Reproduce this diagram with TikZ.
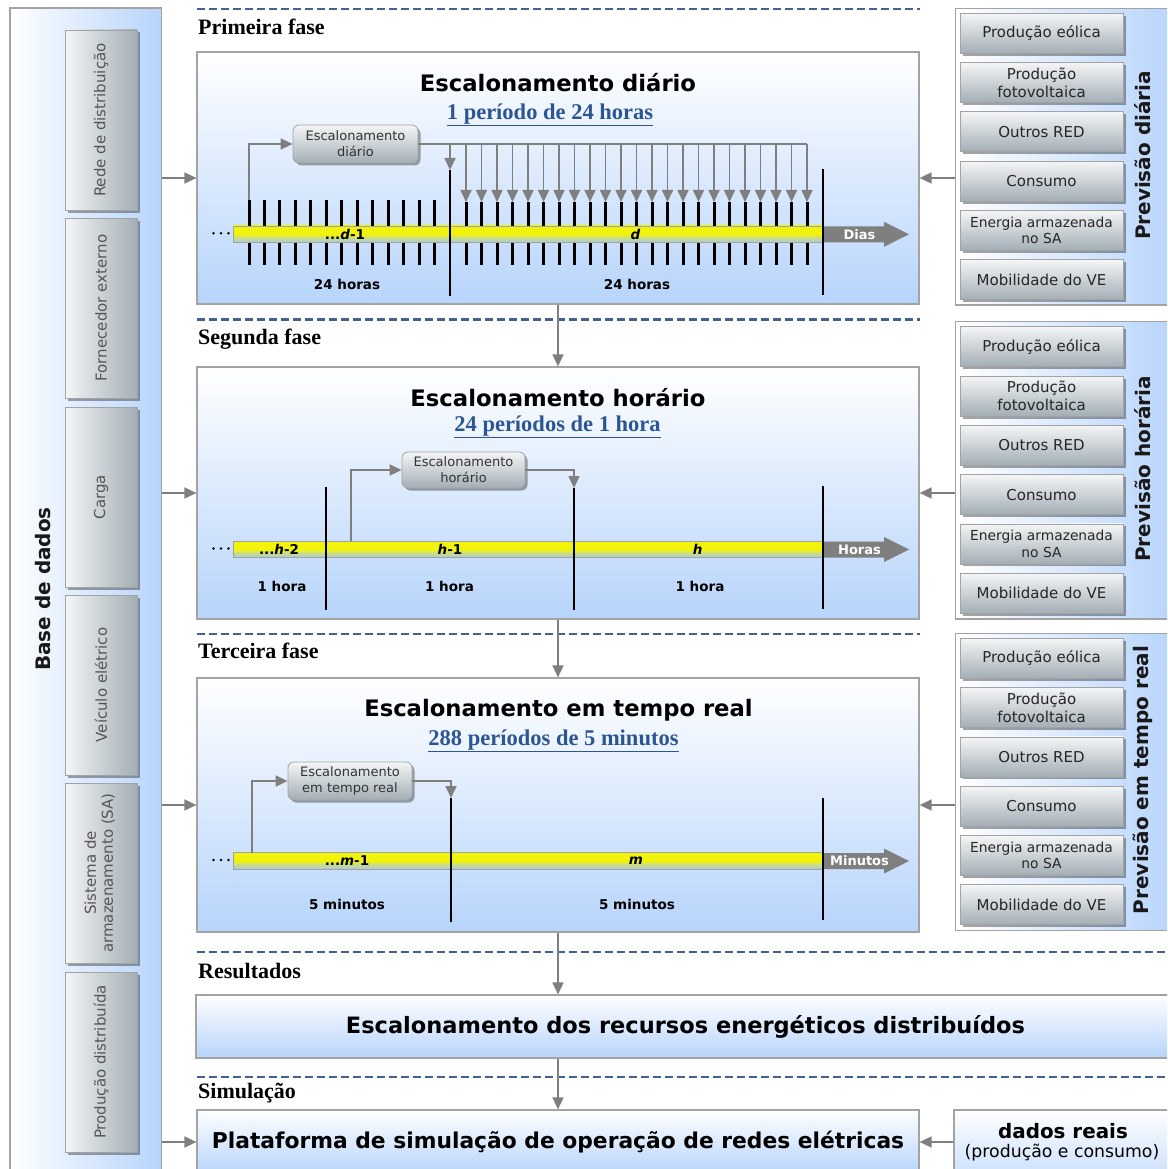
\documentclass[tikz,border=0pt]{standalone}
\usepackage{fontspec}
\setmainfont{DejaVu Sans}
\newfontfamily\timesfont{Liberation Serif}
\usetikzlibrary{arrows.meta,shadows}

\definecolor{panelblue}{HTML}{B7D4FB}
\definecolor{boxlight}{HTML}{F4F5F6}
\definecolor{boxdark}{HTML}{A3AEB5}
\definecolor{edgegray}{HTML}{A3A3A3}
\definecolor{flowgray}{HTML}{7F7F7F}
\definecolor{dashblue}{HTML}{41618F}
\definecolor{periodblue}{HTML}{2C5594}
\definecolor{baryellow}{HTML}{F2F30A}
\definecolor{barblue}{HTML}{A9CBE6}
\definecolor{dbtext}{HTML}{555555}
\definecolor{smalltext}{HTML}{333333}

% time axis fill: yellow upper part fading to pale blue at the bottom
\pgfdeclareverticalshading{barshade}{100bp}{color(0bp)=(barblue); color(25bp)=(barblue);
  color(40bp)=(barblue!55!baryellow); color(50bp)=(baryellow); color(75bp)=(baryellow); color(100bp)=(baryellow)}

\newcommand{\fsz}[2]{\fontsize{#1}{#2}\selectfont}

\tikzset{
  flow/.style={draw=flowgray, line width=1.7pt, -{Triangle[length=12pt,width=11pt]}},
  flowline/.style={draw=flowgray, line width=1.7pt},
  tickmark/.style={line width=3pt, black},
  divider/.style={line width=2.7pt, black},
  phasesep/.style={draw=dashblue, line width=2.3pt, dash pattern=on 8pt off 4pt},
  phaselabel/.style={anchor=west, font=\timesfont\bfseries\fsz{22}{26}, inner sep=0},
  phasebox/.style={draw=edgegray, line width=1.2pt, top color=white, bottom color=panelblue,
    minimum width=722, inner sep=0},
  sidepanel/.style={draw=edgegray, line width=1.2pt, left color=white, right color=panelblue, inner sep=0},
  shadowed/.style={drop shadow={shadow xshift=2.5pt, shadow yshift=-2.5pt, opacity=0.35, fill=black}},
  dbbox/.style={shadowed, draw=edgegray, line width=0.8pt, left color=boxlight, right color=boxdark,
    minimum width=72, minimum height=180, inner sep=0, font=\fsz{15}{17}, text=dbtext},
  fcbox/.style={shadowed, draw=edgegray, line width=0.8pt, top color=boxlight, bottom color=boxdark,
    minimum width=163, minimum height=40, inner sep=0, align=center, text=black!85},
  schedbox/.style={shadowed, draw=edgegray, line width=0.8pt, rounded corners=6pt, top color=boxlight,
    bottom color=boxdark, inner sep=0, align=center, font=\fsz{13}{16}, text=smalltext},
  title/.style={anchor=base, font=\bfseries\fsz{22.7}{26}, inner sep=0},
  period/.style={anchor=base, font=\timesfont\bfseries\fsz{22.5}{26}, text=periodblue, inner sep=0},
  timebar/.style={draw=edgegray, line width=0.8pt, shading=barshade,
    minimum width=590, minimum height=16.7, inner sep=0},
  barlabel/.style={font=\bfseries\fsz{13.5}{16}, inner sep=0},
  arrowlabel/.style={font=\bfseries\fsz{13}{16}, text=white, inner sep=0},
  sidetitle/.style={rotate=90, font=\bfseries\fsz{20}{24}, text=black!90, inner sep=0},
}

\begin{document}
\begin{tikzpicture}[x=1pt,y=-1pt]
\useasboundingbox (0,0) rectangle (1167,1169);
\clip (0,0) rectangle (1167,1169);

% ---------- database column ----------
\node[sidepanel, minimum width=151.7, minimum height=1172] (db) at (85.85,594) {};
\node[sidetitle] (dbtitle) at (43.3,589) {Base de dados};
\node[dbbox] (dbA) at (101,120) {\rotatebox{90}{Rede de distribuição}};
\node[dbbox] (dbB) at (101,308) {\rotatebox{90}{Fornecedor externo}};
\node[dbbox] (dbC) at (101,497) {\rotatebox{90}{Carga}};
\node[dbbox] (dbD) at (101,685) {\rotatebox{90}{Veículo elétrico}};
\node[dbbox] (dbE) at (101,873) {\rotatebox{90}{\begin{tabular}{@{}c@{}}Sistema de\\armazenamento (SA)\end{tabular}}};
\node[dbbox] (dbF) at (101,1062) {\rotatebox{90}{Produção distribuída}};

% ---------- forecast columns ----------
\node[sidepanel, minimum width=219.5, minimum height=296.7] (fc1) at (1065.25,156.6) {};
\node[sidepanel, minimum width=219.5, minimum height=297.3] (fc2) at (1065.25,470.3) {};
\node[sidepanel, minimum width=219.5, minimum height=297.4] (fc3) at (1065.25,782) {};
\foreach \p/\top in {1/13.3, 2/326.7, 3/638.3} {
  \node[fcbox, font=\fsz{15}{18}] (f\p a) at (1041.5,\top+20) {Produção eólica};
  \node[fcbox, font=\fsz{15}{18}] (f\p b) at (1041.5,\top+69.3) {Produção\\fotovoltaica};
  \node[fcbox, font=\fsz{15}{18}] (f\p c) at (1041.5,\top+118.6) {Outros RED};
  \node[fcbox, font=\fsz{15}{18}] (f\p d) at (1041.5,\top+167.9) {Consumo};
  \node[fcbox, font=\fsz{13.8}{16.5}] (f\p e) at (1041.5,\top+217.2) {Energia armazenada\\no SA};
  \node[fcbox, font=\fsz{15}{18}] (f\p f) at (1041.5,\top+266.5) {Mobilidade do VE};
}
\node[sidetitle] (fct1) at (1142.5,155.5) {Previsão diária};
\node[sidetitle] (fct2) at (1142.5,469) {Previsão horária};
\node[sidetitle] (fct3) at (1142.5,780) {Previsão em tempo real};

% ---------- phase separators and labels ----------
\draw[phasesep] (197,9) -- (920,9);
\draw[phasesep] (197,319.5) -- (920,319.5);
\draw[phasesep] (197,634.3) -- (920,634.3);
\draw[phasesep] (197,952) -- (1167,952);
\draw[phasesep] (197,1077) -- (1167,1077);
\node[phaselabel] (lab1) at (198,27) {Primeira fase};
\node[phaselabel] (lab2) at (198,339) {Segunda fase};
\node[phaselabel] (lab3) at (198,651) {Terceira fase};
\node[phaselabel] (lab4) at (198,971) {Resultados};
\node[phaselabel] (lab5) at (198,1093) {Simulação};

% ---------- phase boxes ----------
\node[phasebox, minimum height=252] (ph1) at (558,178) {};
\node[phasebox, minimum height=252] (ph2) at (558,493) {};
\node[phasebox, minimum height=254] (ph3) at (558,805) {};
\node[draw=edgegray, line width=1.2pt, top color=white, bottom color=panelblue, minimum width=979,
  minimum height=63, inner sep=0, font=\bfseries\fsz{22.5}{26}] (res) at (685.5,1026.5)
  {Escalonamento dos recursos energéticos distribuídos};
\node[draw=edgegray, line width=1.2pt, top color=white, bottom color=panelblue, minimum width=722,
  minimum height=64, inner sep=0, font=\bfseries\fsz{21.8}{26}] (plat) at (558,1142)
  {Plataforma de simulação de operação de redes elétricas};
\node[draw=edgegray, line width=1.2pt, top color=white, bottom color=panelblue!70, minimum width=221,
  minimum height=64, inner sep=0] (real) at (1064.5,1142) {};
\node[font=\bfseries\fsz{19.9}{22}, inner sep=0] (realA) at (1063,1131) {dados reais};
\node[font=\fsz{17.3}{20}, inner sep=0] (realB) at (1062,1153) {(produção e consumo)};

% ---------- titles ----------
\node[title] (t1) at (558,92) {Escalonamento diário};
\node[period] (s1) at (550,119.5) {\underline{1 período de 24 horas}};
\node[title] (t2) at (558,406.7) {Escalonamento horário};
\node[period] (s2) at (557.5,431) {\underline{24 períodos de 1 hora}};
\node[title] (t3) at (558.5,716.7) {Escalonamento em tempo real};
\node[period] (s3) at (553.5,745) {\underline{288 períodos de 5 minutos}};

% ---------- time axes ----------
\foreach \yc/\nm/\word in {234.3/1/Dias, 549.5/2/Horas, 861/3/Minutos} {
  \node[timebar] (bar\nm) at (528,\yc) {};
  \fill[flowgray] (823,\yc-8) -- (884,\yc-8) -- (884,\yc-12.5) -- (909,\yc) -- (884,\yc+12.5)
    -- (884,\yc+8) -- (823,\yc+8) -- cycle;
  \node[arrowlabel] (unit\nm) at (859.5,\yc) {\word};
  \foreach \dx in {0,7.5,15} \fill (213.5+\dx,\yc-1) circle (1.4);
}

% first phase: hourly ticks
\foreach \i in {0,...,12} {
  \draw[tickmark] ({249+15.47*\i},200) -- ++(0,26);
  \draw[tickmark] ({249+15.47*\i},243) -- ++(0,22);
}
\foreach \i in {0,...,22} {
  \draw[tickmark] ({466+15.5*\i},202) -- ++(0,24);
  \draw[tickmark] ({466+15.5*\i},243) -- ++(0,22);
}
\draw[divider] (450,170) -- (450,296);
\draw[divider] (823,169) -- (823,295);
\coordinate (d1top) at (450,170);
\coordinate (k1) at (249,200);
\node[schedbox, minimum width=125, minimum height=38] (e1) at (355.5,144) {Escalonamento\\diário};
\draw[flow] (k1) |- (e1.west);
\draw[flowline] (e1.east) -- (807,144);
\draw[flow] (450,144) -- (d1top);
\foreach \i in {0,...,22} \draw[flow] ({466+15.5*\i},144) -- ({466+15.5*\i},202);
\node[barlabel] (l1a) at (345,234.3) {...\textit{d}-1};
\node[barlabel] (l1b) at (635.5,234.3) {\textit{d}};
\node[barlabel] (h1a) at (347,284.5) {24 horas};
\node[barlabel] (h1b) at (637,284.5) {24 horas};

% second phase
\draw[divider] (326,487) -- (326,610);
\draw[divider] (574,488) -- (574,610);
\draw[divider] (823,486) -- (823,609);
\coordinate (d2top) at (574,488);
\coordinate (k2) at (351,541);
\node[schedbox, minimum width=123, minimum height=36] (e2) at (463.5,470) {Escalonamento\\horário};
\draw[flow] (k2) |- (e2.west);
\draw[flow] (e2.east) -| (d2top);
\node[barlabel] (l2a) at (279,549.5) {...\textit{h}-2};
\node[barlabel] (l2b) at (450,549.5) {\textit{h}-1};
\node[barlabel] (l2c) at (697.6,549.5) {\textit{h}};
\node[barlabel] (h2a) at (282,586.5) {1 hora};
\node[barlabel] (h2b) at (449.5,586.5) {1 hora};
\node[barlabel] (h2c) at (700,586.5) {1 hora};

% third phase
\draw[divider] (451,798) -- (451,922);
\draw[divider] (823,798) -- (823,920);
\coordinate (d3top) at (451,798);
\coordinate (k3) at (252,853);
\node[schedbox, minimum width=124, minimum height=38] (e3) at (350,781) {Escalonamento\\em tempo real};
\draw[flow] (k3) |- (e3.west);
\draw[flow] (e3.east) -| (d3top);
\node[barlabel] (l3a) at (347,861) {...\textit{m}-1};
\node[barlabel] (l3b) at (636,861) {\textit{m}};
\node[barlabel] (h3a) at (347,904) {5 minutos};
\node[barlabel] (h3b) at (637,904) {5 minutos};

% ---------- connectors between blocks ----------
\draw[flow] (db.east |- ph1.west) -- (ph1.west);
\draw[flow] (db.east |- ph2.west) -- (ph2.west);
\draw[flow] (db.east |- ph3.west) -- (ph3.west);
\draw[flow] (db.east |- plat.west) -- (plat.west);
\draw[flow] (fc1.west |- ph1.east) -- (ph1.east);
\draw[flow] (fc2.west |- ph2.east) -- (ph2.east);
\draw[flow] (fc3.west |- ph3.east) -- (ph3.east);
\draw[flow] (real.west) -- (plat.east);
\draw[flow] (ph1.south) -- (ph2.north);
\draw[flow] (ph2.south) -- (ph3.north);
\draw[flow] (ph3.south) -- (ph3.south |- res.north);
\draw[flow] (res.south -| plat.north) -- (plat.north);
\end{tikzpicture}
\end{document}
